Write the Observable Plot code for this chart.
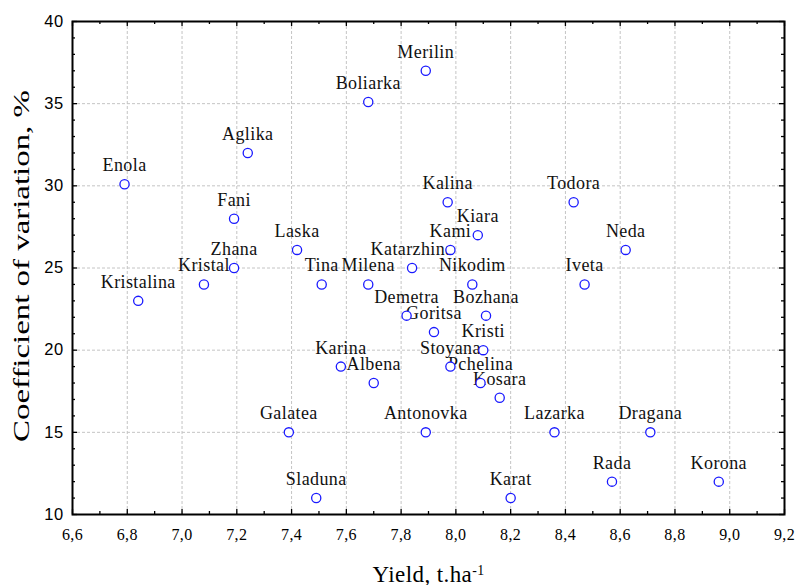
<!DOCTYPE html>
<html><head><meta charset="utf-8">
<script src="https://cdn.jsdelivr.net/npm/d3@7"></script>
<script src="https://cdn.jsdelivr.net/npm/@observablehq/plot@0.6"></script>
<style>body{margin:0;background:#fff}</style>
</head><body><div id="chart"></div>
<script>
const names = ["Enola","Kristalina","Kristal","Zhana","Fani","Aglika","Laska","Galatea","Sladuna","Tina","Karina","Boliarka","Milena","Albena","Demetra","Katarzhina","Merilin","Antonovka","Goritsa","Kalina","Stoyana","Kami","Nikodim","Kiara","Pchelina","Kristi","Bozhana","Kosara","Karat","Lazarka","Todora","Iveta","Rada","Neda","Dragana","Korona"];
const yieldValues = [6.79,6.84,7.08,7.19,7.19,7.24,7.42,7.39,7.49,7.51,7.58,7.68,7.68,7.70,7.82,7.84,7.89,7.89,7.92,7.97,7.98,7.98,8.06,8.08,8.09,8.10,8.11,8.16,8.20,8.36,8.43,8.47,8.57,8.62,8.71,8.96];
const cvValues = [30.1,23.0,24.0,25.0,28.0,32.0,26.1,15.0,11.0,24.0,19.0,35.1,24.0,18.0,22.1,25.0,37.0,15.0,21.1,29.0,19.0,26.1,24.0,27.0,18.0,20.0,22.1,17.1,11.0,15.0,29.0,24.0,12.0,26.1,15.0,12.0];

const xMajorTicks = [6.6,6.8,7.0,7.2,7.4,7.6,7.8,8.0,8.2,8.4,8.6,8.8,9.0,9.2];
const xMinorTicks = [6.7,6.9,7.1,7.3,7.5,7.7,7.9,8.1,8.3,8.5,8.7,8.9,9.1];
const xGridTicks = [6.8,7.0,7.2,7.4,7.6,7.8,8.0,8.2,8.4,8.6,8.8,9.0];
const yMajorTicks = [10,15,20,25,30,35,40];
const yMinorTicks = [11,12,13,14,16,17,18,19,21,22,23,24,26,27,28,29,31,32,33,34,36,37,38,39];
const yGridTicks = [15,20,25,30,35];
const xTitle = "Yield, t.ha";
const xTitleSup = "-1";
const yTitle = "Coefficient of variation, %";

const data = names.map((name, i) => ({name, yield: yieldValues[i], cv: cvValues[i]}));

const W = 795, H = 585, mL = 72, mR = 11, mT = 21, mB = 71;
const innerW = W - mL - mR, innerH = H - mT - mB;
const majorLen = 5, minorLen = 3;
const serif = "'Liberation Serif', 'Times New Roman', serif";
const sans = "'Liberation Sans', Arial, sans-serif";

const chart = Plot.plot({
  width: W, height: H,
  marginLeft: mL, marginRight: mR, marginTop: mT, marginBottom: mB,
  style: {background: "white", letterSpacing: "0.4px"},
  x: {domain: [6.6, 9.2]},
  y: {domain: [10, 40]},
  marks: [
    Plot.ruleX(xGridTicks, {x: d => d, stroke: "#c4c4c4", strokeDasharray: "3,2"}),
    Plot.ruleY(yGridTicks, {y: d => d, stroke: "#c4c4c4", strokeDasharray: "3,2"}),
    // inward tick marks on all four sides
    Plot.tickX(xMajorTicks, {x: d => d, insetTop: innerH - majorLen, stroke: "black", strokeWidth: 1.3}),
    Plot.tickX(xMajorTicks, {x: d => d, insetBottom: innerH - majorLen, stroke: "black", strokeWidth: 1.3}),
    Plot.tickX(xMinorTicks, {x: d => d, insetTop: innerH - minorLen, stroke: "black", strokeWidth: 1.3}),
    Plot.tickX(xMinorTicks, {x: d => d, insetBottom: innerH - minorLen, stroke: "black", strokeWidth: 1.3}),
    Plot.tickY(yMajorTicks, {y: d => d, insetRight: innerW - majorLen, stroke: "black", strokeWidth: 1.3}),
    Plot.tickY(yMajorTicks, {y: d => d, insetLeft: innerW - majorLen, stroke: "black", strokeWidth: 1.3}),
    Plot.tickY(yMinorTicks, {y: d => d, insetRight: innerW - minorLen, stroke: "black", strokeWidth: 1.3}),
    Plot.tickY(yMinorTicks, {y: d => d, insetLeft: innerW - minorLen, stroke: "black", strokeWidth: 1.3}),
    Plot.frame({stroke: "black", strokeWidth: 2}),
    Plot.axisX(xMajorTicks, {tickSize: 0, tickPadding: 14, tickFormat: d => d.toFixed(1).replace(".", ","), fontFamily: serif, fontSize: 16, fill: "black", label: null}),
    Plot.axisY(yMajorTicks, {tickSize: 0, tickPadding: 9, tickFormat: d => String(d), fontFamily: sans, fontSize: 16.5, fill: "black", label: null}),
    Plot.text(data, {x: "yield", y: "cv", text: "name", lineAnchor: "bottom", dy: -13, fontFamily: serif, fontSize: 18, fill: "#111"}),
    Plot.dot(data, {x: "yield", y: "cv", r: 4.6, stroke: "#1a1aff", strokeWidth: 1.3, fill: "white"}),
    Plot.text([xTitle], {frameAnchor: "bottom", lineAnchor: "bottom", textAnchor: "middle", dy: 67, fontFamily: serif, fontSize: 23, fill: "black"}),
    Plot.text([yTitle], {frameAnchor: "left", rotate: -90, lineAnchor: "bottom", textAnchor: "middle", dx: -44, dy: -2, fontFamily: serif, fontSize: 23, fill: "black"})
  ]
});

document.getElementById("chart").appendChild(chart);

// title adjustments: superscript on the x title, stretched y title
d3.select(chart).selectAll("text").each(function() {
  const t = d3.select(this);
  if (this.textContent === xTitle) {
    t.append("tspan").attr("baseline-shift", "super").attr("font-size", "0.6em").text(xTitleSup);
  } else if (this.textContent === yTitle) {
    t.style("letter-spacing", "0px");
    const len = this.getComputedTextLength();
    const s = 352 / len;
    const tr = t.attr("transform") || "";
    t.attr("transform", tr + ` scale(${s},1)`);
  }
});
</script>
</body></html>
